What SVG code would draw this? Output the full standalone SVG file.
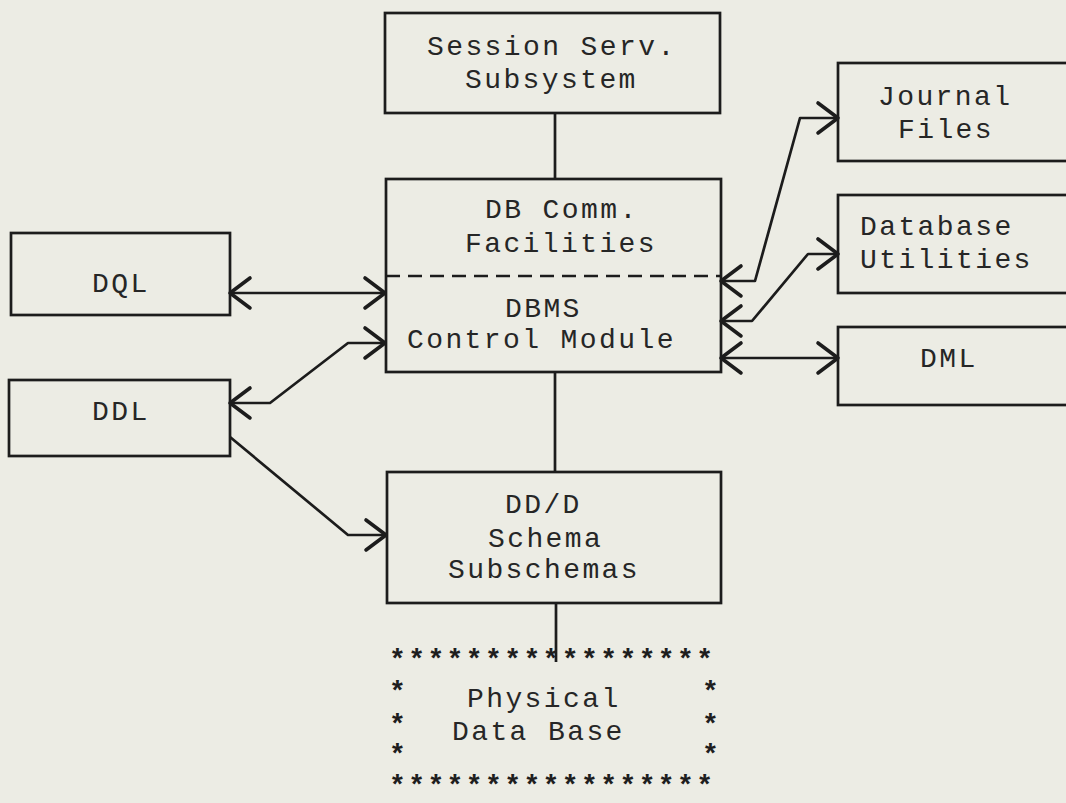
<svg xmlns="http://www.w3.org/2000/svg" width="1066" height="803" viewBox="0 0 1066 803">
  <style>
    .box { fill: none; stroke: #1c1c1c; stroke-width: 2.7; }
    .wire { fill: none; stroke: #1c1c1c; stroke-width: 2.7; stroke-linejoin: round; }
    .dash { fill: none; stroke: #1c1c1c; stroke-width: 2.7; stroke-dasharray: 14 8; }
    text { font-family: "Liberation Mono", "Courier New", monospace; font-size: 28px; letter-spacing: 2.4px; fill: #262626; }
    .star { font-weight: bold; fill: #1e1e1e; }
  </style>
  <defs>
    <!-- open V arrowhead; reversed at path starts -->
    <marker id="arr" markerUnits="userSpaceOnUse" viewBox="-24 -20 28 40" markerWidth="28" markerHeight="40" refX="0" refY="0" orient="auto-start-reverse" overflow="visible">
      <path d="M -20 -15 L 0 0 L -20 15" fill="none" stroke="#1c1c1c" stroke-width="3.6" stroke-linecap="round" stroke-linejoin="round"/>
    </marker>
  </defs>

  <rect width="1066" height="803" fill="#ecece4"/>

  <g id="connectors">
    <path class="wire" d="M 555 113 V 179"/>
    <path class="wire" d="M 555 372 V 472"/>
    <path class="wire" d="M 556 603 V 662"/>
    <path class="wire" d="M 230 293 H 385" marker-start="url(#arr)" marker-end="url(#arr)"/>
    <path class="wire" d="M 230 403 H 270 L 348 343 H 385" marker-start="url(#arr)" marker-end="url(#arr)"/>
    <path class="wire" d="M 230 437 L 348 535 H 386" marker-end="url(#arr)"/>
    <path class="wire" d="M 721 281 H 755 L 800 118 H 838" marker-start="url(#arr)" marker-end="url(#arr)"/>
    <path class="wire" d="M 721 321 H 752 L 808 254 H 838" marker-start="url(#arr)" marker-end="url(#arr)"/>
    <path class="wire" d="M 721 358 H 838" marker-start="url(#arr)" marker-end="url(#arr)"/>
  </g>

  <g id="session">
    <rect class="box" x="385" y="13" width="335" height="100"/>
    <text x="427" y="55">Session Serv.</text>
    <text x="465" y="88">Subsystem</text>
  </g>

  <g id="dbms">
    <rect class="box" x="386" y="179" width="335" height="193"/>
    <line class="dash" x1="386" y1="276" x2="721" y2="276"/>
    <text x="485" y="218">DB Comm.</text>
    <text x="465" y="252">Facilities</text>
    <text x="505" y="317">DBMS</text>
    <text x="407" y="348">Control Module</text>
  </g>

  <g id="dql">
    <rect class="box" x="11" y="233" width="219" height="82"/>
    <text x="92" y="292">DQL</text>
  </g>

  <g id="ddl">
    <rect class="box" x="9" y="380" width="221" height="76"/>
    <text x="92" y="420">DDL</text>
  </g>

  <g id="ddd">
    <rect class="box" x="387" y="472" width="334" height="131"/>
    <text x="505" y="513">DD/D</text>
    <text x="488" y="547">Schema</text>
    <text x="448" y="578">Subschemas</text>
  </g>

  <g id="journal">
    <rect class="box" x="838" y="63" width="250" height="98"/>
    <text x="878" y="105">Journal</text>
    <text x="898" y="138">Files</text>
  </g>

  <g id="utilities">
    <rect class="box" x="838" y="195" width="250" height="98"/>
    <text x="860" y="235">Database</text>
    <text x="860" y="268">Utilities</text>
  </g>

  <g id="dml">
    <rect class="box" x="838" y="327" width="250" height="78"/>
    <text x="920" y="367">DML</text>
  </g>

  <g id="physical">
    <text class="star" x="389" y="668" letter-spacing="2.75">*****************</text>
    <text class="star" x="389" y="700">*</text>
    <text x="467" y="707">Physical</text>
    <text class="star" x="702" y="700">*</text>
    <text class="star" x="389" y="733">*</text>
    <text x="452" y="740">Data Base</text>
    <text class="star" x="702" y="733">*</text>
    <text class="star" x="389" y="763">*</text>
    <text class="star" x="702" y="763">*</text>
    <text class="star" x="389" y="794" letter-spacing="2.75">*****************</text>
  </g>
</svg>
